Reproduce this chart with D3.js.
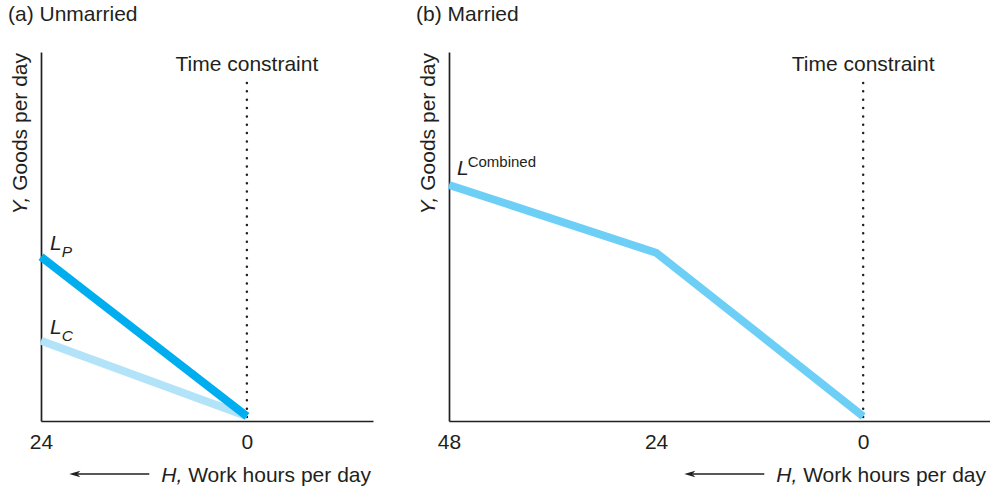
<!DOCTYPE html>
<html><head><meta charset="utf-8">
<script src="https://cdn.jsdelivr.net/npm/d3@7"></script>
<style>
body{margin:0;background:#fff}
text{font-family:"Liberation Sans",Arial,Helvetica,sans-serif;fill:#231f20}
</style>
</head><body>
<svg id="c" width="990" height="489"></svg>
<script>
// ---- data ----
const panelTitles = ["(a) Unmarried", "(b) Married"];
const hoursUnmarried = [24, 0];
const goodsP = [43.8, 0];
const goodsC = [20.7, 0];
const hoursMarried = [48, 24, 0];
const goodsCombined = [63.5, 44.9, 0];
const ticksUnmarried = [24, 0];
const ticksMarried = [48, 24, 0];
const yLabelItalic = "Y,";
const yLabelRest = " Goods per day";
const xLabelItalic = "H,";
const xLabelRest = " Work hours per day";
const constraintLabel = "Time constraint";

const svg = d3.select("#c");
const FS = 21;
const ink = "#231f20";

const y = d3.scaleLinear().domain([-1.3, 100]).range([421, 52]);

function panel(opt) {
  const x = d3.scaleLinear().domain(opt.xDomain).range(opt.xRange);
  const g = svg.append("g");

  // title
  g.append("text").attr("x", opt.titleX).attr("y", 21).attr("font-size", FS).text(opt.title);

  // axes
  const xa = g.append("g").attr("transform", `translate(0,${y.range()[0]})`)
    .call(d3.axisBottom(x).tickValues(opt.ticks).tickSize(0).tickSizeOuter(0).tickPadding(13).tickFormat(d3.format("d")));
  xa.select(".domain").attr("stroke", ink).attr("stroke-width", 1.7);
  xa.selectAll("text").attr("font-size", FS).attr("font-family", '"Liberation Sans",Arial,sans-serif').attr("fill", ink);

  const ya = g.append("g").attr("transform", `translate(${x.range()[0]},0)`)
    .call(d3.axisLeft(y).tickValues([]).tickSizeOuter(0));
  ya.select(".domain").attr("stroke", ink).attr("stroke-width", 1.7);

  // y label
  const yl = g.append("text")
    .attr("transform", `translate(${x.range()[0] - 14},${y.range()[1] + 1}) rotate(-90)`)
    .attr("text-anchor", "end").attr("font-size", FS);
  yl.append("tspan").attr("font-style", "italic").text(yLabelItalic);
  yl.append("tspan").text(yLabelRest);

  // time constraint dotted line
  g.append("line").attr("x1", x(0)).attr("x2", x(0)).attr("y1", 83).attr("y2", 419)
    .attr("stroke", ink).attr("stroke-width", 2.5).attr("stroke-linecap", "round")
    .attr("stroke-dasharray", "0,8.35");
  g.append("text").attr("x", x(0)).attr("y", 71).attr("text-anchor", "middle")
    .attr("font-size", FS).text(constraintLabel);

  // lines
  const line = d3.line().x(d => x(d[0])).y(d => y(d[1]));
  opt.series.forEach(s => {
    g.append("path").datum(d3.zip(s.h, s.v)).attr("d", line)
      .attr("fill", "none").attr("stroke", s.color).attr("stroke-width", s.w)
      .attr("stroke-linejoin", "miter").attr("stroke-linecap", "butt");
  });

  // x label + arrow
  const xl = g.append("text").attr("x", opt.xLabelEnd).attr("y", 482)
    .attr("text-anchor", "end").attr("font-size", FS);
  xl.append("tspan").attr("font-style", "italic").text(xLabelItalic);
  xl.append("tspan").text(xLabelRest);
  const tl = xl.node().getComputedTextLength();
  const ax1 = opt.xLabelEnd - tl - 12, ax0 = ax1 - 80, ay = 474;
  g.append("line").attr("x1", ax0 + 8).attr("x2", ax1).attr("y1", ay).attr("y2", ay)
    .attr("stroke", ink).attr("stroke-width", 1.3);
  g.append("path").attr("d", `M${ax0},${ay}L${ax0 + 11},${ay - 3.2}L${ax0 + 8},${ay}L${ax0 + 11},${ay + 3.2}Z`)
    .attr("fill", ink);

  return {g, x};
}

// Panel (a)
const pa = panel({
  title: panelTitles[0], titleX: 8,
  xDomain: [24, -14.7], xRange: [41, 373], ticks: ticksUnmarried, xLabelEnd: 371,
  series: [
    {h: hoursUnmarried, v: goodsC, color: "#b3e3f8", w: 8},
    {h: hoursUnmarried, v: goodsP, color: "#00aeef", w: 8}
  ]
});
function sub(g, xp, yp, main, s) {
  const t = g.append("text").attr("x", xp).attr("y", yp).attr("font-size", FS).attr("font-style", "italic");
  t.append("tspan").text(main);
  t.append("tspan").attr("font-size", 15.5).attr("dy", 7).attr("dx", 0).text(s);
}
sub(pa.g, pa.x(hoursUnmarried[0]) + 9, y(goodsP[0]) - 7, "L", "P");
sub(pa.g, pa.x(hoursUnmarried[0]) + 9, y(goodsC[0]) - 7, "L", "C");

// Panel (b)
const pb = panel({
  title: panelTitles[1], titleX: 416,
  xDomain: [48, -14.7], xRange: [449, 990], ticks: ticksMarried, xLabelEnd: 986,
  series: [
    {h: hoursMarried, v: goodsCombined, color: "#6dcff6", w: 8}
  ]
});
const lc = pb.g.append("text").attr("x", pb.x(hoursMarried[0]) + 8).attr("y", y(goodsCombined[0]) - 10)
  .attr("font-size", FS);
lc.append("tspan").attr("font-style", "italic").text("L");
lc.append("tspan").attr("font-size", 15).attr("dy", -8).attr("dx", -1).text("Combined");
</script>
</body></html>
